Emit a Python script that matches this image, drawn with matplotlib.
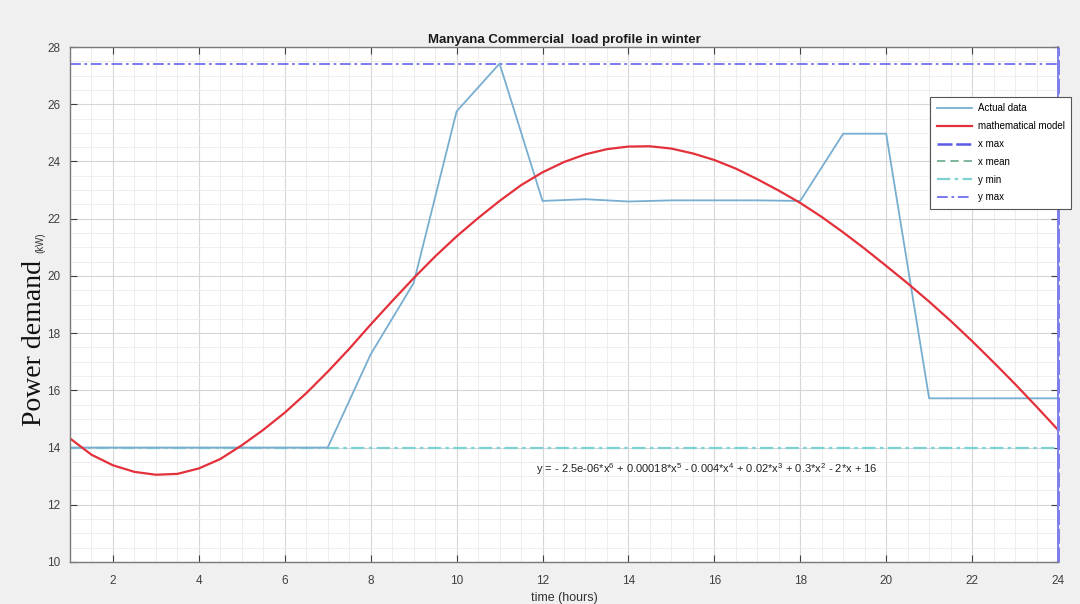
import matplotlib
matplotlib.use("Agg")
import matplotlib.pyplot as plt
from matplotlib.ticker import MultipleLocator
from matplotlib.lines import Line2D

plt.rcParams['font.family'] = ['Liberation Sans', 'DejaVu Sans']
plt.rcParams['mathtext.default'] = 'regular'

hours = list(range(1, 25))
actual_kw = [14, 14, 14, 14, 14, 14, 14, 17.26, 19.75, 25.75, 27.42, 22.62,
             22.68, 22.6, 22.64, 22.64, 22.64, 22.62, 24.97, 24.97, 15.72, 15.72, 15.72, 15.72]

# mathematical model curve, every half hour
model_hours = [1, 1.5, 2, 2.5, 3, 3.5, 4, 4.5, 5, 5.5, 6, 6.5, 7, 7.5, 8, 8.5, 9, 9.5,
               10, 10.5, 11, 11.5, 12, 12.5, 13, 13.5, 14, 14.5, 15, 15.5, 16, 16.5,
               17, 17.5, 18, 18.5, 19, 19.5, 20, 20.5, 21, 21.5, 22, 22.5, 23, 23.5, 24]
model_kw = [14.32, 13.75, 13.38, 13.15, 13.05, 13.08, 13.27, 13.6, 14.08, 14.62, 15.22,
            15.9, 16.65, 17.45, 18.3, 19.12, 19.92, 20.68, 21.38, 22.02, 22.62, 23.17,
            23.62, 23.98, 24.25, 24.43, 24.52, 24.53, 24.45, 24.28, 24.05, 23.75, 23.38,
            22.98, 22.55, 22.06, 21.52, 20.95, 20.35, 19.74, 19.1, 18.43, 17.72, 16.98,
            16.22, 15.43, 14.62]
x_max = 24
y_min = 14
y_max = 27.42
title = "Manyana Commercial  load profile in winter"
equation = ("y = - 2.5e-06*x$^{6}$ + 0.00018*x$^{5}$ - 0.004*x$^{4}$ + 0.02*x$^{3}$"
            " + 0.3*x$^{2}$ - 2*x + 16")
legend_labels = ["Actual data", "mathematical model", "x max", "x mean", "y min", "y max"]

fig = plt.figure(figsize=(10.8, 6.04), dpi=100, facecolor='#f0f0f0')
ax = fig.add_axes([70/1080, 1-562/604, 988/1080, 515/604])
ax.set_facecolor('white')

c_actual = '#78aed0'
c_model = '#e3303a'
c_xmax = '#5a5ae6'
c_xmean = '#6aa88a'
c_ymin = '#7fd0d0'
c_ymax = '#7070f0'

h_ymin, = ax.plot([hours[0], hours[-1]], [y_min, y_min], color=c_ymin, lw=1.6,
                  linestyle=(0, (6, 2, 1.5, 2)))
h_ymax, = ax.plot([hours[0], hours[-1]], [y_max, y_max], color=c_ymax, lw=1.3,
                  linestyle=(0, (6, 2, 1.5, 2)))
h_xmax, = ax.plot([x_max, x_max], [10, 28], color=c_xmax, lw=1.8, linestyle=(0, (6, 1.5)),
                  clip_on=False)
h_xmean = Line2D([], [], color=c_xmean, lw=1.2, linestyle=(0, (5, 3)))
h_act, = ax.plot(hours, actual_kw, color=c_actual, lw=1.3)
h_mod, = ax.plot(model_hours, model_kw, color=c_model, lw=1.6)

ax.set_xlim(1, 24)
ax.set_ylim(10, 28)
ax.xaxis.set_major_locator(MultipleLocator(2))
ax.xaxis.set_minor_locator(MultipleLocator(0.5))
ax.yaxis.set_major_locator(MultipleLocator(2))
ax.yaxis.set_minor_locator(MultipleLocator(0.5))
ax.set_axisbelow(True)
ax.grid(which='major', color='#d6d6d6', lw=0.8)
ax.grid(which='minor', color='#ebebeb', lw=0.6)
ax.tick_params(which='major', direction='in', length=5, top=True, right=True,
               labelsize=8.5, labelcolor='#404040', color='#404040')
ax.tick_params(axis='x', pad=9)
ax.tick_params(axis='y', pad=7)
ax.tick_params(which='minor', length=0)
for s in ax.spines.values():
    s.set_color('#7a7a7a')
    s.set_linewidth(1.0)
ax.spines['right'].set_color('#8080ee')
ax.spines['right'].set_linewidth(1.4)

ax.set_title(title, fontsize=9.5, fontweight='bold', pad=3, color='#1a1a1a')
ax.set_xlabel("time (hours)", fontsize=9, color='#333333', labelpad=4)

fig.text(35/1080, 1-343/604, "Power demand", rotation=90, ha='center', va='center',
         fontsize=20, family=['Liberation Serif', 'DejaVu Serif'], color='#111111')
fig.text(40/1080, 1-243/604, "(kW)", rotation=90, ha='center', va='center',
         fontsize=7, color='#333333')

ax.text(11.85, 13.25, equation, fontsize=8, color='#222222', ha='left', va='center')

leg = ax.legend([h_act, h_mod, h_xmax, h_xmean, h_ymin, h_ymax], legend_labels,
                loc='upper right', bbox_to_anchor=(1.0185, 0.913), fontsize=7,
                frameon=True, fancybox=False, edgecolor='#555555', framealpha=1,
                handlelength=3.6, handletextpad=0.6, borderpad=0.7, labelspacing=0.8)
leg.get_frame().set_linewidth(0.8)

fig.savefig("out.png", dpi=100, facecolor=fig.get_facecolor())
